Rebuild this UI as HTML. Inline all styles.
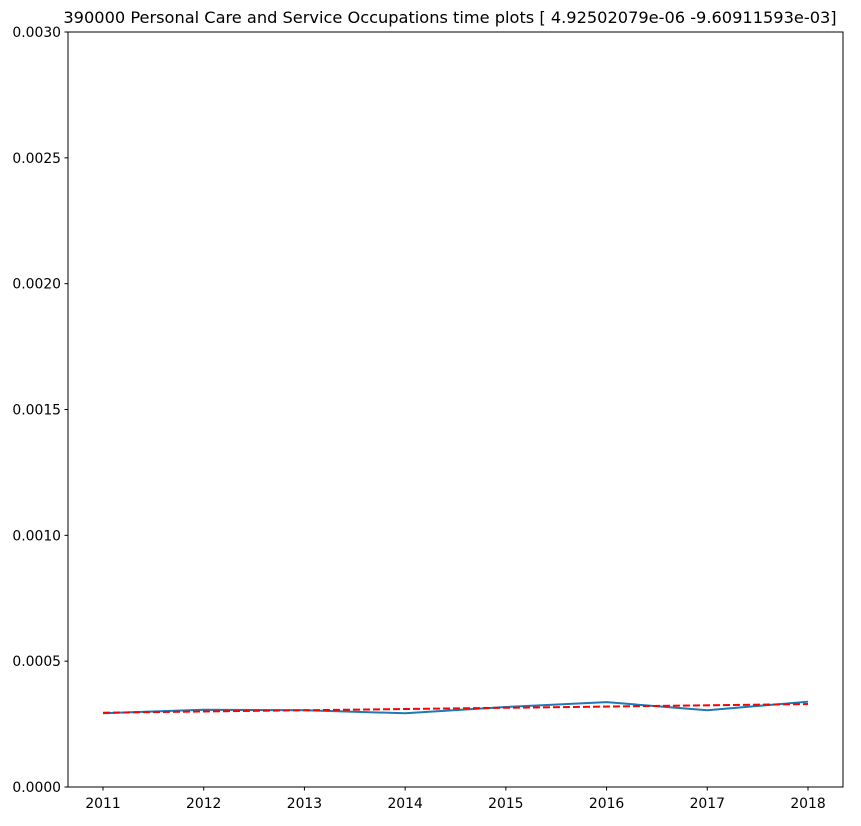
<!DOCTYPE html>
<html><head><meta charset="utf-8"><style>
body{margin:0;background:#fff;font-family:"Liberation Sans","DejaVu Sans",sans-serif}
svg text{font-family:"DejaVu Sans","Liberation Sans",sans-serif}
</style></head><body>
<svg id="chart" width="861" height="821" xmlns="http://www.w3.org/2000/svg">
<rect width="861" height="821" fill="#fff"/>
<text x="450" y="23" text-anchor="middle" font-size="16.2">390000 Personal Care and Service Occupations time plots [ 4.92502079e-06 -9.60911593e-03]</text>
<g id="ticks"></g>
<rect x="68" y="32" width="775" height="755" fill="none" stroke="#000" stroke-width="1"/>
</svg>
<script>
const years=[2011,2012,2013,2014,2015,2016,2017,2018];
const values=[0.000293,0.000307,0.000305,0.000293,0.000318,0.000337,0.000305,0.000339];
const slope=4.92502079e-06, intercept=-9.60911593e-03;
const yTicks=[0,0.0005,0.001,0.0015,0.002,0.0025,0.003];
const yTickLabels=["0.0000","0.0005","0.0010","0.0015","0.0020","0.0025","0.0030"];
const L=68,R=843,T=32,B=787;
const x=v=>103+(v-2011)*(808-103)/7;
const y=v=>B-(v-0)/(0.003)*(B-T);
const svg=document.getElementById('chart'),g=document.getElementById('ticks');
const NS="http://www.w3.org/2000/svg";
function mk(t,a){const e=document.createElementNS(NS,t);for(const k in a)e.setAttribute(k,a[k]);return e;}
yTicks.forEach((v,i)=>{
 const l=mk('line',{x1:L-3.5,x2:L,y1:y(v),y2:y(v),stroke:'#000'});
 
 
 g.appendChild(l);
 const t=mk('text',{x:L-7,y:y(v)+5,'text-anchor':'end','font-size':'13.9'});
 
 
 t.textContent=yTickLabels[i];g.appendChild(t);
});
years.forEach(v=>{
 const l=mk('line',{x1:x(v),x2:x(v),y1:B,y2:B+3.5,stroke:'#000'});
 
 
 g.appendChild(l);
 const t=mk('text',{x:x(v),y:B+21,'text-anchor':'middle','font-size':'13.9'});
 
 
 t.textContent=v;g.appendChild(t);
});
const p=mk('polyline',{points:years.map((v,i)=>x(v)+','+y(values[i])).join(' '),fill:'none',stroke:'#1f77b4','stroke-width':'2'});


svg.appendChild(p);
const y0=intercept+slope*years[0],y1=intercept+slope*years[years.length-1];
const tr=mk('line',{x1:x(years[0]),y1:y(y0),x2:x(years[years.length-1]),y2:y(y1),stroke:'red','stroke-width':'2','stroke-dasharray':'7,3'});


svg.appendChild(tr);
</script>
</body></html>
